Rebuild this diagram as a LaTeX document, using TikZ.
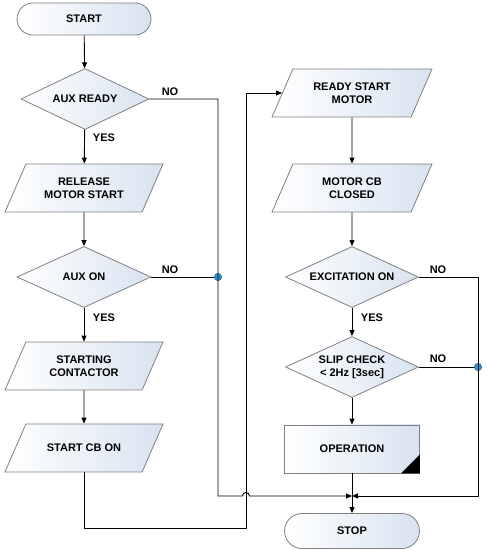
\documentclass[tikz,border=0pt]{standalone}
\usepackage{fontspec}
\setmainfont{Liberation Sans}
\usepackage{tikz}
\usetikzlibrary{shapes.geometric, shapes.misc, arrows.meta}
\definecolor{boxline}{RGB}{128, 128, 128}
\definecolor{boxshade}{RGB}{216, 227, 240}
\definecolor{dotblue}{RGB}{30, 150, 220}

\begin{document}
\begin{tikzpicture}[x=1pt, y=1pt, font=\fontsize{11}{13}\selectfont\bfseries,
  >={Triangle[length=6pt, width=5pt]},
  boxfill/.style={draw=boxline, line width=0.8pt, left color=white, right color=boxshade,
    align=center, inner sep=0pt},
  termbox/.style={boxfill, rounded rectangle, minimum width=134, minimum height=32},
  decbox/.style={boxfill, diamond, aspect=2, minimum height=61},
  iobox/.style={boxfill, trapezium, trapezium left angle=65, trapezium right angle=115,
    trapezium stretches body, inner ysep=12pt, minimum width=158, minimum height=48},
  ioone/.style={iobox, inner ysep=18.5pt},
  procbox/.style={boxfill, rectangle, minimum width=135, minimum height=48},
  flow/.style={->, line width=0.9pt},
  link/.style={line width=0.9pt},
  jdot/.style={circle, fill=dotblue, draw=black!70, line width=0.4pt, inner sep=0pt,
    minimum size=7.5pt}]
  \useasboundingbox (0,0) rectangle (487,550);
  % left column
  \node[termbox] (start) at (84,531) {START};
  \node[decbox, minimum width=128] (auxready) at (85,451) {AUX READY};
  \node[iobox] (release) at (84,362) {RELEASE\\MOTOR START};
  \node[decbox, minimum width=134] (auxon) at (84,273) {AUX ON};
  \node[iobox] (starting) at (84,184) {STARTING\\CONTACTOR};
  \node[ioone] (startcb) at (84,102) {START CB ON};
  % right column
  \node[iobox, minimum width=160] (ready) at (352,457) {READY START\\MOTOR};
  \node[iobox, minimum width=160] (motorcb) at (352,362) {MOTOR CB\\CLOSED};
  \node[decbox, minimum width=133] (excit) at (352,273) {EXCITATION ON};
  \node[decbox, minimum width=133] (slip) at (352,183) {SLIP CHECK\\< 2Hz [3sec]};
  \node[procbox] (oper) at (352,101) {OPERATION};
  \node[termbox, minimum width=135, minimum height=35] (stop) at (352,19) {STOP};
  \fill (oper.south east) -- ++(-19,0) -- ++(19,19) -- cycle;

  % bends and junctions
  \coordinate (retlow) at (246,22);
  \coordinate (hop) at (246,54);
  \coordinate (busl) at (218,54);
  \coordinate (busr) at (478,54);
  \coordinate (junc) at (352,54);
  \node[jdot] (dotl) at (busl |- auxon.east) {};
  \node[jdot] (dotr) at (busr |- slip.east) {};

  % main flow
  \draw[flow] (start) -- (auxready);
  \draw[flow] (auxready) -- (release);
  \draw[flow] (release) -- (auxon);
  \draw[flow] (auxon) -- (starting);
  \draw[flow] (starting) -- (startcb);
  \draw[flow] (startcb.south) |- (retlow) |- (ready.west);
  \draw[flow] (ready) -- (motorcb);
  \draw[flow] (motorcb) -- (excit);
  \draw[flow] (excit) -- (slip);
  \draw[flow] (slip) -- (oper);
  \draw[flow] (oper) -- (stop);

  % NO branches
  \draw[flow] (auxready.east) -| (busl) -- ([xshift=-3.5pt]hop)
    arc[start angle=180, end angle=0, radius=3.5pt] -- (junc);
  \draw[link] (auxon.east) -- (dotl);
  \draw[flow] (excit.east) -| (busr) -- (junc);
  \draw[link] (slip.east) -- (dotr);

  % labels
  \node (noa) at (170,458) {NO};
  \node (yesa) at (104,412) {YES};
  \node (nob) at (170,280) {NO};
  \node (yesb) at (104,232) {YES};
  \node (noc) at (438,280) {NO};
  \node (yesc) at (372,232) {YES};
  \node (nod) at (438,191) {NO};
\end{tikzpicture}
\end{document}
